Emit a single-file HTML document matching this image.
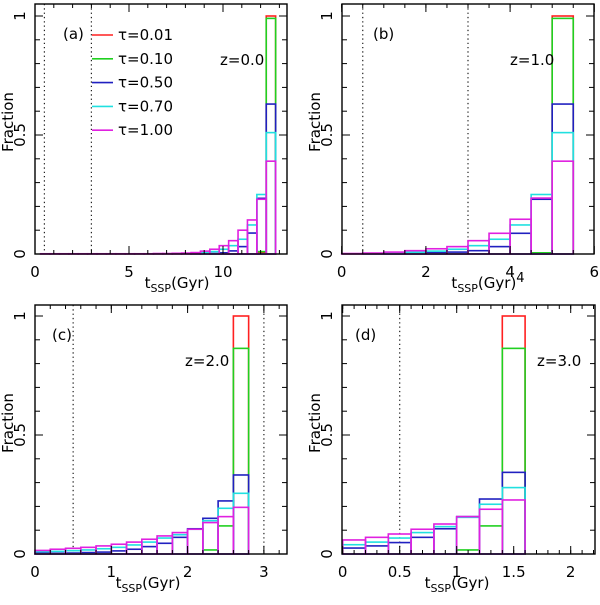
<!DOCTYPE html>
<html><head><meta charset="utf-8"><style>
body{margin:0;background:#fff;}
svg text{font-family:"DejaVu Sans","Liberation Sans",sans-serif;fill:#000;}
</style></head><body>
<svg id="chart" width="600" height="600" viewBox="0 0 600 600" xmlns="http://www.w3.org/2000/svg"></svg>
<script>
const seriesNames = ["τ=0.01","τ=0.10","τ=0.50","τ=0.70","τ=1.00"];
const seriesColors = ["#ff2020","#20d020","#2020c0","#20e0e0","#e020e0"];
// panel a: bins 0.5 Gyr ending at 12.8
const aEdgesStart = 0.3, aBinW = 0.5;
const aRed   = [0,0,0,0,0,0,0,0,0,0,0,0,0,0,0,0,0,0,0,0,0,0,0,0.005,1.0];
const aGreen = [0,0,0,0,0,0,0,0,0,0,0,0,0,0,0,0,0,0,0,0,0,0,0,0.01,0.99];
const aBlue  = [0,0,0,0,0,0,0,0,0,0,0,0,0,0,0,0,0,0,0.002,0.005,0.013,0.031,0.088,0.234,0.63];
const aCyan  = [0,0,0,0,0,0,0,0,0,0,0,0,0,0,0,0,0.002,0.005,0.01,0.02,0.035,0.062,0.122,0.25,0.51];
const aMag   = [0.001,0.001,0.001,0.001,0.001,0.001,0.001,0.001,0.001,0.001,0.001,0.001,0.002,0.002,0.003,0.004,0.006,0.012,0.02,0.035,0.056,0.1,0.143,0.23,0.39];
// panel b
const bEdgesStart = 0, bBinW = 0.5;
const bRed   = [0,0,0,0,0,0,0,0,0,0,1.0];
const bGreen = [0,0,0,0,0,0,0,0,0,0.005,0.99];
const bBlue  = [0,0,0.001,0.003,0.005,0.008,0.014,0.031,0.087,0.23,0.63];
const bCyan  = [0,0.002,0.004,0.007,0.012,0.02,0.035,0.062,0.122,0.25,0.51];
const bMag   = [0.002,0.004,0.008,0.014,0.022,0.031,0.056,0.087,0.146,0.235,0.39];
// panel c
const cEdgesStart = 0, cBinW = 0.2;
const cRed   = [0,0,0,0,0,0,0,0,0,0,0,0,0,1.0];
const cGreen = [0,0,0,0,0,0,0,0,0,0,0,0.017,0.118,0.864];
const cBlue  = [0.004,0.003,0.004,0.006,0.008,0.013,0.02,0.031,0.045,0.07,0.106,0.15,0.223,0.332];
const cCyan  = [0.01,0.011,0.014,0.017,0.022,0.028,0.038,0.05,0.067,0.081,0.104,0.14,0.192,0.255];
const cMag   = [0.015,0.02,0.024,0.028,0.034,0.041,0.05,0.062,0.076,0.09,0.104,0.132,0.157,0.196];
// panel d
const dEdgesStart = 0, dBinW = 0.2;
const dRed   = [0,0,0,0,0,0,0,1.0];
const dGreen = [0,0,0,0,0,0.017,0.118,0.864];
const dBlue  = [0.025,0.034,0.048,0.07,0.106,0.157,0.231,0.343];
const dCyan  = [0.039,0.05,0.067,0.09,0.115,0.154,0.209,0.279];
const dMag   = [0.059,0.07,0.084,0.104,0.126,0.157,0.188,0.227];
// ticks
const aXTicks = ["0","5","10"], bXTicks = ["0","2","4","6"], cXTicks = ["0","1","2","3"], dXTicks = ["0","0.5","1","1.5","2"];
const yTicks = ["0","0.5","1"];

const NS = "http://www.w3.org/2000/svg";
const svg = document.getElementById("chart");
function mk(tag, attrs, parent){const e=document.createElementNS(NS,tag);for(const k in attrs)e.setAttribute(k,attrs[k]);(parent||svg).appendChild(e);return e;}

const panels = [
 {id:"a",L:35,R:287,T:4,B:254,x0:35,xs:18.8,xmax:13.4,xt:aXTicks,minor:1,start:aEdgesStart,w:aBinW,data:[aRed,aGreen,aBlue,aCyan,aMag],dots:[0.5,3],lab:"(a)",lx:63,z:"z=0.0",zx:220,legend:true,xlabX:177,sup:false},
 {id:"b",L:342,R:594,T:4,B:254,x0:341.7,xs:42.1,xmax:6,xt:bXTicks,minor:0.5,start:bEdgesStart,w:bBinW,data:[bRed,bGreen,bBlue,bCyan,bMag],dots:[0.5,3],lab:"(b)",lx:373,z:"z=1.0",zx:510,legend:false,xlabX:488,sup:true},
 {id:"c",L:35,R:287,T:305,B:554,x0:35,xs:76.3,xmax:3.3,xt:cXTicks,minor:0.2,start:cEdgesStart,w:cBinW,data:[cRed,cGreen,cBlue,cCyan,cMag],dots:[0.5,3],lab:"(c)",lx:52,z:"z=2.0",zx:185,legend:false,xlabX:148,sup:false},
 {id:"d",L:342,R:595,T:305,B:554,x0:342.7,xs:114,xmax:2.21,xt:dXTicks,minor:0.1,start:dEdgesStart,w:dBinW,data:[dRed,dGreen,dBlue,dCyan,dMag],dots:[0.5],lab:"(d)",lx:355,z:"z=3.0",zx:537,legend:false,xlabX:457,sup:false}
];

panels.forEach(p=>{
  const g = mk("g",{});
  
  
  const X = v=>p.x0+v*p.xs;
  const Y = v=>p.B-v*238;
  p.dots.forEach(d=>{
    const l=mk("line",{x1:X(d),x2:X(d),y1:p.T,y2:p.B,stroke:"#222","stroke-width":1.2,"stroke-dasharray":"1.3,3"},g);
    
    
  });
  p.data.forEach((arr,si)=>{
    const sg=mk("g",{},g);
    
    
    arr.forEach((v,i)=>{
      const x1=X(p.start+i*p.w), x2=X(p.start+(i+1)*p.w);
      const r=mk("rect",{x:x1,y:Y(v),width:x2-x1,height:p.B-Y(v),fill:"none",stroke:seriesColors[si],"stroke-width":1.6},sg);
      
      
    });
  });
  const f=mk("rect",{x:p.L,y:p.T,width:p.R-p.L,height:p.B-p.T,fill:"none",stroke:"#000","stroke-width":1.4},g);
  
  
  for(let k=0;k<=10;k++){
    const y=Y(k/10), len=(k%5==0)?8:5;
    mk("line",{x1:p.L,x2:p.L+len,y1:y,y2:y,stroke:"#000","stroke-width":1},g);
    mk("line",{x1:p.R,x2:p.R-len,y1:y,y2:y,stroke:"#000","stroke-width":1},g);
  }
  const n=Math.floor(p.xmax/p.minor+1e-6);
  for(let k=0;k<=n;k++){
    const x=X(k*p.minor);
    if(x>p.R) break;
    mk("line",{x1:x,x2:x,y1:p.B,y2:p.B-4,stroke:"#000","stroke-width":1},g);
    mk("line",{x1:x,x2:x,y1:p.T,y2:p.T+4,stroke:"#000","stroke-width":1},g);
  }
  p.xt.forEach(t=>{
    const x=X(parseFloat(t));
    mk("line",{x1:x,x2:x,y1:p.B,y2:p.B-8,stroke:"#000","stroke-width":1},g);
    mk("line",{x1:x,x2:x,y1:p.T,y2:p.T+8,stroke:"#000","stroke-width":1},g);
    const tx=mk("text",{x:x,y:p.B+23,"font-size":15,"text-anchor":"middle"},g);
    tx.textContent=t;
    
    
  });
  yTicks.forEach(t=>{
    const y=Y(parseFloat(t));
    const tx=mk("text",{x:0,y:0,"font-size":15,"text-anchor":"middle",transform:`translate(${p.L-10},${y}) rotate(-90)`},g);
    tx.textContent=t;
    
    
  });
  const yt=mk("text",{x:0,y:0,"font-size":15,"text-anchor":"middle",transform:`translate(${p.L-22},${p.T+118}) rotate(-90)`},g);
  yt.textContent="Fraction";
  
  
  const xt=mk("text",{x:p.xlabX,y:p.B+34,"font-size":15,"text-anchor":"middle"},g);
  xt.innerHTML='t<tspan font-size="11" dy="4">SSP</tspan><tspan dy="-4">(Gyr)</tspan>'+(p.sup?'<tspan font-size="13" dy="-6">4</tspan>':'');
  
  
  const lb=mk("text",{x:p.lx,y:p.T+35,"font-size":15},g);
  lb.textContent=p.lab;
  
  
  const zt=mk("text",{x:p.zx,y:p.T+61,"font-size":15},g);
  zt.textContent=p.z;
  
  
  if(p.legend){
    seriesNames.forEach((nm,i)=>{
      const y=35+i*23.8;
      const le=mk("g",{},g);
      
      
      mk("line",{x1:92,x2:113,y1:y,y2:y,stroke:seriesColors[i],"stroke-width":1.6},le);
      const t=mk("text",{x:118,y:y+5,"font-size":15},le);
      t.textContent=nm;
    });
  }
});
</script>
</body></html>
